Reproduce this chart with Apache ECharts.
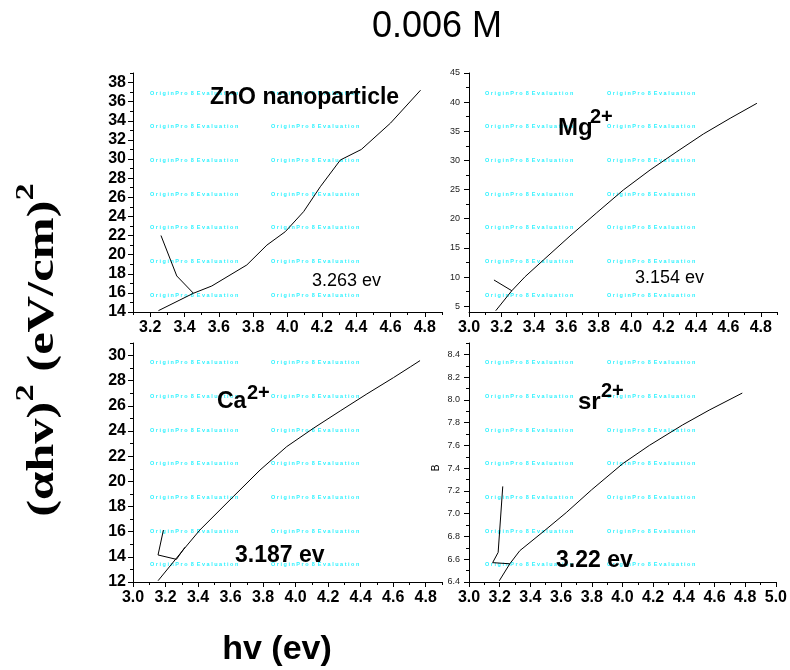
<!DOCTYPE html>
<html>
<head>
<meta charset="utf-8">
<title>0.006 M</title>
<script src="https://cdn.jsdelivr.net/npm/echarts@6/dist/echarts.min.js"></script>
<style>
  html, body { margin: 0; padding: 0; background: #fff; }
  #chart { width: 790px; height: 670px; }
</style>
</head>
<body>
<div id="chart"></div>
<script>
// ---- Data: (alpha h v)^2 versus photon energy h v, four samples at 0.006 M ----
const znoX = [3.248, 3.452, 3.559, 3.763, 3.88, 3.987, 4.094, 4.191, 4.308, 4.43, 4.6, 4.775];
const znoY = [14.14, 15.96, 16.72, 18.92, 21.0, 22.4, 24.5, 27.1, 29.9, 31.0, 33.76, 37.2];
const znoFitX = [3.263, 3.355, 3.452];
const znoFitY = [22.0, 17.77, 15.96];

const mgX = [3.165, 3.264, 3.346, 3.459, 3.623, 3.788, 3.952, 4.117, 4.282, 4.446, 4.611, 4.776];
const mgY = [4.22, 7.65, 10.06, 12.92, 17.04, 21.03, 24.93, 28.36, 31.5, 34.54, 37.23, 39.8];
const mgFitX = [3.154, 3.264];
const mgFitY = [9.49, 7.65];

const caX = [3.154, 3.308, 3.411, 3.616, 3.781, 3.945, 4.109, 4.274, 4.438, 4.602, 4.705, 4.765];
const caY = [12.1, 14.54, 16.13, 18.78, 20.9, 22.76, 24.22, 25.6, 26.95, 28.25, 29.1, 29.6];
const caFitX = [3.187, 3.154, 3.267, 3.319];
const caFitY = [16.13, 14.15, 13.8, 14.76];

const srX = [3.197, 3.266, 3.331, 3.482, 3.634, 3.799, 4.002, 4.175, 4.392, 4.565, 4.781];
const srY = [6.41, 6.56, 6.675, 6.84, 7.01, 7.21, 7.44, 7.60, 7.78, 7.91, 8.06];
const srFitX = [3.22, 3.19, 3.154, 3.266];
const srFitY = [7.24, 6.66, 6.57, 6.56];

// ---- Tick values ----
const xTicksZno = [3.2, 3.4, 3.6, 3.8, 4.0, 4.2, 4.4, 4.6, 4.8];
const xMinorZno = [3.1, 3.3, 3.5, 3.7, 3.9, 4.1, 4.3, 4.5, 4.7, 4.9];
const xTicks49 = [3.0, 3.2, 3.4, 3.6, 3.8, 4.0, 4.2, 4.4, 4.6, 4.8];
const xMinor49 = [3.1, 3.3, 3.5, 3.7, 3.9, 4.1, 4.3, 4.5, 4.7, 4.9];
const xTicks50 = [3.0, 3.2, 3.4, 3.6, 3.8, 4.0, 4.2, 4.4, 4.6, 4.8, 5.0];
const xMinor50 = [3.1, 3.3, 3.5, 3.7, 3.9, 4.1, 4.3, 4.5, 4.7, 4.9];

const yTicksZno = [14, 16, 18, 20, 22, 24, 26, 28, 30, 32, 34, 36, 38];
const yMinorZno = [15, 17, 19, 21, 23, 25, 27, 29, 31, 33, 35, 37, 39];
const yTicksMg = [5, 10, 15, 20, 25, 30, 35, 40, 45];
const yMinorMg = [7.5, 12.5, 17.5, 22.5, 27.5, 32.5, 37.5, 42.5];
const yTicksCa = [12, 14, 16, 18, 20, 22, 24, 26, 28, 30];
const yMinorCa = [13, 15, 17, 19, 21, 23, 25, 27, 29, 31];
const yTicksSr = [6.4, 6.6, 6.8, 7.0, 7.2, 7.4, 7.6, 7.8, 8.0, 8.2, 8.4];
const yMinorSr = [6.5, 6.7, 6.9, 7.1, 7.3, 7.5, 7.7, 7.9, 8.1, 8.3, 8.5];

// ---- Text ----
const chartTitle = '0.006 M';
const xTitle = 'hv (ev)';
const gapLabels = ['3.263 ev', '3.154 ev', '3.187 ev', '3.22 ev'];
const watermark = 'O r i g i n P r o  8  E v a l u a t i o n';

// ---- Helpers ----
const SANS = '"Liberation Sans", Arial, sans-serif';
const SERIF = '"Liberation Serif", "Times New Roman", serif';
const zip = (xs, ys) => xs.map((x, i) => [x, ys[i]]);

const bigLabel = { fontFamily: SANS, fontWeight: 'bold', fontSize: 16, color: '#000' };
const smallLabel = { fontFamily: SANS, fontWeight: 'normal', fontSize: 9, color: '#222' };

function axisPair(dim, gridIndex, min, max, major, minor, label, fmt, margin) {
  const pos = dim === 'x' ? 'bottom' : 'left';
  const base = { type: 'value', gridIndex, min, max, position: pos, splitLine: { show: false } };
  return [
    Object.assign({}, base, {
      axisLine: { show: true, onZero: false, lineStyle: { color: '#000', width: 1 } },
      axisTick: { show: true, inside: false, length: 5, customValues: major, lineStyle: { color: '#000', width: 1 } },
      axisLabel: Object.assign({ customValues: major, formatter: fmt, margin }, label)
    }),
    Object.assign({}, base, {
      axisLine: { show: false },
      axisTick: { show: true, inside: false, length: 3, customValues: minor, lineStyle: { color: '#000', width: 1 } },
      axisLabel: { show: false }
    })
  ];
}
const f1 = v => v.toFixed(1);
const f0 = v => String(Math.round(v));

const grids = [
  { left: 133, top: 73, width: 309, height: 239 },
  { left: 469, top: 73, width: 308, height: 239 },
  { left: 133, top: 343, width: 309, height: 239 },
  { left: 469, top: 343, width: 308, height: 239 }
];

const xAxes = [].concat(
  axisPair('x', 0, 3.1, 4.9, xTicksZno, xMinorZno, bigLabel, f1, 8),
  axisPair('x', 1, 3.0, 4.9, xTicks49, xMinor49, bigLabel, f1, 8),
  axisPair('x', 2, 3.0, 4.9, xTicks49, xMinor49, bigLabel, f1, 8),
  axisPair('x', 3, 3.0, 5.0, xTicks50, xMinor50, bigLabel, f1, 8)
);
const yAxes = [].concat(
  axisPair('y', 0, 14, 39, yTicksZno, yMinorZno, bigLabel, f0, 7),
  axisPair('y', 1, 4, 45, yTicksMg, yMinorMg, smallLabel, f0, 9),
  axisPair('y', 2, 12, 31, yTicksCa, yMinorCa, bigLabel, f0, 7),
  axisPair('y', 3, 6.4, 8.5, yTicksSr, yMinorSr, smallLabel, f1, 9)
);

function line(data, panel) {
  return {
    type: 'line', data, xAxisIndex: panel * 2, yAxisIndex: panel * 2,
    showSymbol: false, symbol: 'none', smooth: false, silent: true,
    lineStyle: { color: '#000', width: 1 }, animation: false
  };
}

const series = [
  line(zip(znoX, znoY), 0), line(zip(znoFitX, znoFitY), 0),
  line(zip(mgX, mgY), 1), line(zip(mgFitX, mgFitY), 1),
  line(zip(caX, caY), 2), line(zip(caFitX, caFitY), 2),
  line(zip(srX, srY), 3), line(zip(srFitX, srFitY), 3)
];

// evaluation stamps repeated across each panel
const stampCols = [[150, 271], [485, 607], [150, 271], [485, 607]];
const stampRows = [
  [93, 126, 160, 194, 227, 261, 295], [93, 126, 160, 194, 227, 261, 295],
  [362, 396, 430, 463, 497, 531, 564], [362, 396, 430, 463, 497, 531, 564]
];
const graphics = [];
stampCols.forEach((cols, p) => {
  cols.forEach(cx => stampRows[p].forEach(cy => {
    graphics.push({
      type: 'text', x: cx, y: cy, silent: true, z: 0,
      style: { text: watermark, fontFamily: SANS, fontSize: 5.5, fontWeight: 'bold', fill: '#2ef2ff', align: 'left', verticalAlign: 'middle' }
    });
  }));
});

function txt(text, x, y, size, weight, align, extra) {
  return Object.assign({
    type: 'text', x, y, silent: true, z: 10,
    style: { text, fontFamily: SANS, fontSize: size, fontWeight: weight, fill: '#000', align: align || 'left', verticalAlign: 'middle' }
  }, extra || {});
}

graphics.push(
  txt(chartTitle, 437, 27, 36, 'normal', 'center'),
  txt(xTitle, 277, 650, 34, 'bold', 'center'),
  txt('ZnO nanoparticle', 210, 98, 23, 'bold'),
  txt(gapLabels[0], 312, 281, 18, 'normal'),
  txt('Mg', 558, 128, 24, 'bold'),
  txt('2+', 590, 117, 20, 'bold'),
  txt(gapLabels[1], 635, 278, 18, 'normal'),
  txt('Ca', 217, 402, 23, 'bold'),
  txt('2+', 247, 393, 20, 'bold'),
  txt(gapLabels[2], 235, 556, 23, 'bold'),
  txt('sr', 578, 402, 24, 'bold'),
  txt('2+', 601, 391, 20, 'bold'),
  txt(gapLabels[3], 556, 561, 23, 'bold'),
  txt('B', 436, 468, 10, 'normal', 'center', { rotation: Math.PI / 2 }),
  {
    type: 'text', x: 38, y: 350, rotation: Math.PI / 2, scaleX: 1.33, silent: true, z: 10,
    style: {
      text: '{m|(αhv)}{s|2}{m| (eV/cm)}{s|2}',
      align: 'center', verticalAlign: 'middle',
      rich: {
        m: { fontFamily: SERIF, fontWeight: 'bold', fontSize: 38, fill: '#000', verticalAlign: 'bottom', padding: [11, 0, 0, 0] },
        s: { fontFamily: SERIF, fontWeight: 'bold', fontSize: 26, fill: '#000', verticalAlign: 'top' }
      }
    }
  }
);

const chart = echarts.init(document.getElementById('chart'), null, { renderer: 'canvas' });
chart.setOption({
  animation: false,
  backgroundColor: '#fff',
  grid: grids,
  xAxis: xAxes,
  yAxis: yAxes,
  series,
  graphic: graphics
});
</script>
</body>
</html>
